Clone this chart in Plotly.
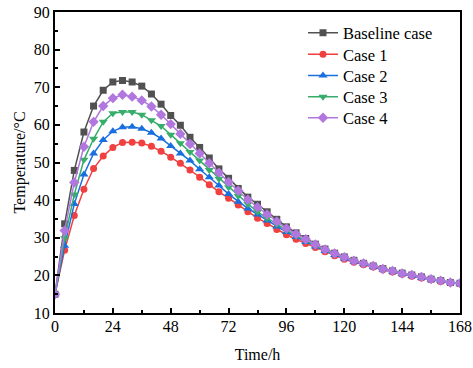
import plotly.graph_objects as go

time_h = list(range(0, 169, 4))

baseline = [15.0, 33.7, 47.9, 58.1, 65.0, 69.2, 71.4, 71.8, 71.4, 70.3, 68.2, 65.5, 62.5, 59.9,
            56.7, 54.0, 51.2, 48.3, 45.8, 43.1, 40.8, 38.9, 36.9, 34.9, 32.9, 31.3, 29.8, 28.3,
            27.0, 25.9, 24.9, 24.0, 23.2, 22.5, 21.8, 21.2, 20.6, 20.1, 19.6, 19.0, 18.6, 18.1, 17.9]
case1 = [15.0, 26.7, 35.9, 42.9, 48.4, 51.7, 54.0, 55.3, 55.4, 55.2, 54.3, 53.0, 51.4, 49.8,
         48.0, 46.1, 44.1, 42.2, 40.5, 38.7, 36.9, 35.2, 33.8, 32.2, 30.8, 29.6, 28.5, 27.4,
         26.3, 25.2, 24.3, 23.5, 22.8, 22.2, 21.5, 20.9, 20.3, 19.8, 19.3, 18.9, 18.4, 18.0, 17.8]
case2 = [15.0, 27.9, 39.0, 46.8, 52.4, 56.0, 58.3, 59.4, 59.5, 59.0, 57.9, 56.4, 54.4, 52.4,
         50.5, 48.2, 46.1, 43.9, 41.6, 39.6, 37.8, 36.2, 34.6, 33.0, 31.5, 30.2, 28.9, 27.7,
         26.5, 25.4, 24.5, 23.7, 23.0, 22.3, 21.6, 21.0, 20.4, 19.9, 19.4, 18.9, 18.5, 18.1, 17.8]
case3 = [15.0, 29.9, 41.5, 50.7, 56.3, 60.8, 63.1, 63.4, 63.4, 62.7, 61.2, 59.7, 57.4, 55.1,
         52.8, 50.5, 48.0, 45.7, 43.4, 41.1, 39.0, 36.9, 35.2, 33.6, 32.0, 30.5, 29.2, 27.9,
         26.7, 25.6, 24.7, 23.8, 23.1, 22.4, 21.7, 21.1, 20.5, 20.0, 19.5, 19.0, 18.6, 18.1, 17.9]
case4 = [15.0, 31.9, 44.7, 54.2, 60.8, 65.0, 67.1, 68.0, 67.5, 66.5, 64.9, 62.7, 60.2, 57.6,
         54.9, 52.4, 49.8, 47.3, 44.8, 42.5, 40.1, 38.1, 36.2, 34.3, 32.5, 31.0, 29.6, 28.2,
         26.9, 25.8, 24.8, 23.9, 23.2, 22.5, 21.7, 21.2, 20.5, 20.1, 19.6, 19.0, 18.6, 18.1, 17.9]

series_names = ["Baseline case", "Case 1", "Case 2", "Case 3", "Case 4"]
series_values = [baseline, case1, case2, case3, case4]
colors = ["#515151", "#F14040", "#1A6FDF", "#37AD6B", "#B177DE"]
symbols = ["square", "circle", "triangle-up", "triangle-down", "diamond"]
sizes = [7, 7, 8, 8, 8]

x_ticks = [0, 24, 48, 72, 96, 120, 144, 168]
y_ticks = [10, 20, 30, 40, 50, 60, 70, 80, 90]

FONT = "Times New Roman, Liberation Serif, serif"

FIG_W, FIG_H = 473, 368
PLOT_L, PLOT_R, PLOT_TOP, PLOT_BOT = 55, 460, 12, 313
PLOT_H = PLOT_BOT - PLOT_TOP
legend_rows_px = [33, 54.5, 75.8, 97, 118]
legend_ids = ["legend", "legend2", "legend3", "legend4", "legend5"]

fig = go.Figure()
for name, vals, c, s, sz, lid in zip(series_names, series_values, colors, symbols, sizes, legend_ids):
    fig.add_trace(go.Scatter(
        x=time_h, y=vals, name=name, mode="lines+markers",
        line=dict(color=c, width=1.5),
        marker=dict(symbol=s, size=sz, color=c, line=dict(width=0)),
        legend=lid,
    ))

axis_common = dict(
    showline=True, linecolor="black", linewidth=2, mirror=True,
    ticks="inside", ticklen=5, tickwidth=1.5, tickcolor="black",
    showgrid=False, zeroline=False, ticklabeloverflow="allow",
    tickfont=dict(family=FONT, size=16, color="black"),
)

fig.update_xaxes(
    range=[0, 168], tickvals=x_ticks, ticktext=[str(v) for v in x_ticks],
    minor=dict(ticks="inside", ticklen=3, tickwidth=1.5, tickcolor="black", dtick=12, tick0=0),
    title=dict(text="Time/h", font=dict(family=FONT, size=16, color="black")),
    automargin=False, ticklabelstandoff=-2,
    **axis_common,
)
fig.update_yaxes(
    range=[10, 90], tickvals=y_ticks, ticktext=[str(v) for v in y_ticks],
    minor=dict(ticks="inside", ticklen=3, tickwidth=1.5, tickcolor="black", dtick=5, tick0=0),
    title=dict(text="Temperature/°C", font=dict(family=FONT, size=16, color="black"), standoff=4),
    automargin="left",
    **axis_common,
)

legend_layout = {}
for lid, yc in zip(legend_ids, legend_rows_px):
    legend_layout[lid] = dict(
        x=(303 - PLOT_L) / (PLOT_R - PLOT_L), y=(PLOT_BOT - yc) / PLOT_H,
        xanchor="left", yanchor="middle",
        bgcolor="rgba(0,0,0,0)", borderwidth=0,
        font=dict(family=FONT, size=16.5, color="black"), itemwidth=30,
    )

fig.update_layout(
    width=FIG_W, height=FIG_H,
    margin=dict(l=PLOT_L, r=FIG_W - PLOT_R, t=PLOT_TOP, b=FIG_H - PLOT_BOT),
    paper_bgcolor="white", plot_bgcolor="white",
    font=dict(family=FONT, size=16, color="black"),
    showlegend=True,
    **legend_layout,
)

fig.write_html("out.html",
               config={"displayModeBar": False},
               post_script="document.body.style.margin='0';document.body.style.overflow='hidden';")
